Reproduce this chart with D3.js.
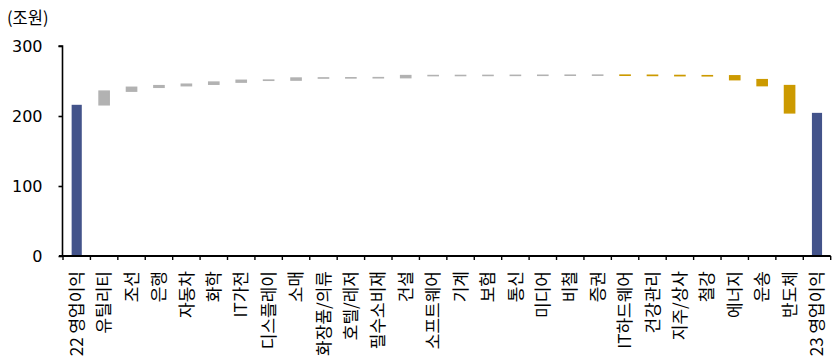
<!DOCTYPE html>
<html>
<head>
<meta charset="utf-8">
<script src="https://cdn.jsdelivr.net/npm/d3@7"></script>
<style>
  html, body { margin: 0; padding: 0; background: #fff; }
  svg { display: block; }
  text { font-family: "Noto Sans CJK KR", "Noto Sans", sans-serif; fill: #000; }
</style>
</head>
<body>
<svg id="chart" width="837" height="358"></svg>
<script>
// Sector contributions to the change in operating profit (조원)
const categories = [
  "22 영업이익", "유틸리티", "조선", "은행", "자동차", "화학", "IT가전", "디스플레이",
  "소매", "화장품/의류", "호텔/레저", "필수소비재", "건설", "소프트웨어", "기계", "보험",
  "통신", "미디어", "비철", "증권", "IT하드웨어", "건강관리", "지주/상사", "철강",
  "에너지", "운송", "반도체", "23 영업이익"
];
// Totals for the first and last columns, signed changes for the sectors between
const startTotal = 216;
const endTotal = 204.5;
const changes = [
  19.5, 5.5, 2.3, 2.1, 3.0, 2.6, 0.3,
  2.9, 0.2, 0.2, 0.2, 2.9, 0.1, 0.1, 0.1,
  0.1, 0.1, 0.1, 0.1, -0.2, -0.3, -0.3, -0.2,
  -5.5, -8.5, -38.9
];
const yTicks = [0, 100, 200, 300];
const unitLabel = "(조원)";

const colors = { total: "#43538A", up: "#B2B2B2", down: "#CC9A00" };

// Build waterfall segments
const rows = [];
rows.push({ name: categories[0], y0: 0, y1: startTotal, kind: "total" });
let level = startTotal;
changes.forEach((c, i) => {
  rows.push({ name: categories[i + 1], y0: level, y1: level + c, kind: c >= 0 ? "up" : "down" });
  level += c;
});
rows.push({ name: categories[categories.length - 1], y0: 0, y1: endTotal, kind: "total" });

const svg = d3.select("#chart");
const margin = { left: 63 };

const x = d3.scaleBand()
  .domain(categories)
  .range([margin.left, 830.7])
  .paddingInner(0.63)
  .paddingOuter(0.315);

const y = d3.scaleLinear()
  .domain([0, 300])
  .range([256, 46]);

// Bars
svg.append("g").selectAll("rect")
  .data(rows)
  .join("rect")
  .attr("x", d => x(d.name))
  .attr("width", x.bandwidth())
  .attr("y", d => y(Math.max(d.y0, d.y1)))
  .attr("height", d => Math.abs(y(d.y0) - y(d.y1)))
  .attr("fill", d => colors[d.kind])
  .attr("stroke", d => d.kind === "total" ? "none" : colors[d.kind])
  .attr("stroke-width", 1.5);

// Y axis
const yAxis = d3.axisLeft(y).tickValues(yTicks).tickSize(4).tickPadding(16);
const gy = svg.append("g").attr("transform", `translate(${margin.left - 0.5},0)`).call(yAxis);
gy.select(".domain").attr("stroke", "#000").attr("stroke-width", 1.6).attr("d", `M-4,${y(300)}H0V${y(0)}`);
gy.selectAll(".tick line").attr("stroke", "#000").attr("stroke-width", 1.6);
gy.selectAll(".tick text")
  .style("font-size", "16px")
  .style("font-family", "'DejaVu Sans', sans-serif")
  .attr("fill", "#000");

// X axis baseline with ticks at band boundaries
const step = x.step();
const gap = (step - x.bandwidth()) / 2;
const bounds = categories.map(c => x(c) - gap)
  .concat([x(categories[categories.length - 1]) + x.bandwidth() + gap]);
const gx = svg.append("g");
gx.append("line")
  .attr("x1", margin.left - 4).attr("x2", bounds[bounds.length - 1])
  .attr("y1", y(0)).attr("y2", y(0))
  .attr("stroke", "#000").attr("stroke-width", 1.8);
gx.selectAll("line.tk")
  .data(bounds)
  .join("line")
  .attr("class", "tk")
  .attr("x1", d => d).attr("x2", d => d)
  .attr("y1", y(0)).attr("y2", y(0) + 4)
  .attr("stroke", "#000").attr("stroke-width", 1.4);

// Rotated category labels
gx.selectAll("text.cat")
  .data(categories)
  .join("text")
  .attr("class", "cat")
  .attr("transform", d => `translate(${x(d) + x.bandwidth() / 2},271) rotate(-90)`)
  .attr("text-anchor", "end")
  .attr("dy", "0.36em")
  .style("font-size", "17px")
  .text(d => d);

// Unit label
svg.append("text")
  .attr("x", 7)
  .attr("y", 24)
  .style("font-size", "16.5px")
  .text(unitLabel);
</script>
</body>
</html>
